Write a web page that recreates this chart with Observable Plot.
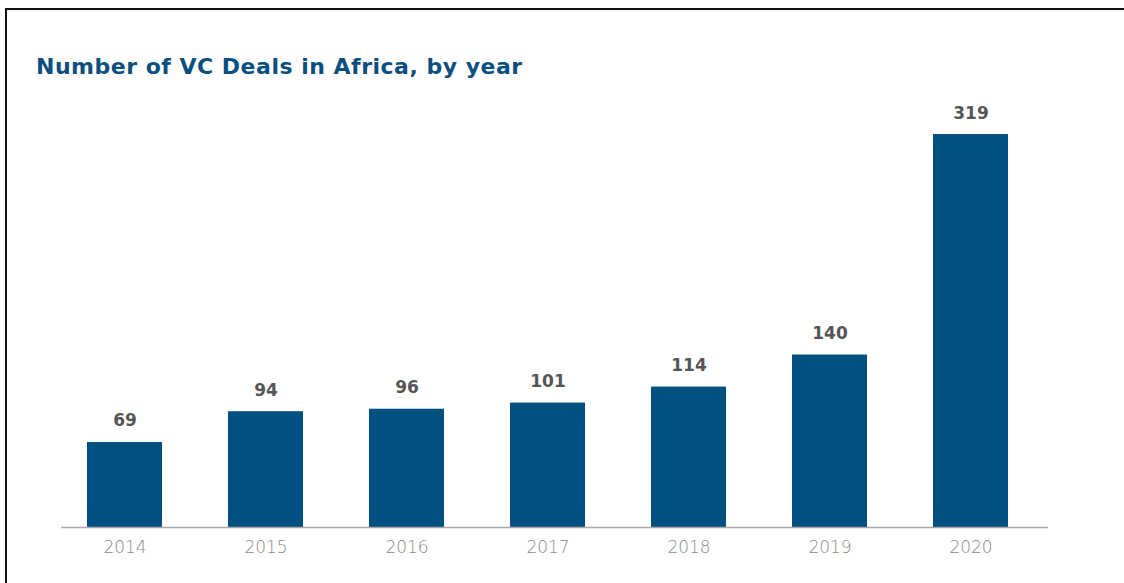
<!DOCTYPE html>
<html>
<head>
<meta charset="utf-8">
<script src="https://cdn.jsdelivr.net/npm/d3@7"></script>
<script src="https://cdn.jsdelivr.net/npm/@observablehq/plot@0.6"></script>
<style>
  html, body { margin: 0; padding: 0; background: #fff; }
  #wrap { position: relative; width: 1124px; height: 583px; overflow: hidden; background: #fff; }
  #borderTop { position: absolute; left: 5px; top: 8px; width: 1119px; height: 2px; background: #111; }
  #borderLeft { position: absolute; left: 5px; top: 8px; width: 2px; height: 575px; background: #111; }
  #title { position: absolute; left: 36px; top: 56px; line-height: 22px; font-family: "DejaVu Sans", sans-serif; font-weight: bold; font-size: 22px; letter-spacing: 0.5px; color: #0b4f80; white-space: nowrap; }
  #chart { position: absolute; left: 0; top: 0; }
</style>
</head>
<body>
<div id="wrap">
  <div id="chart"></div>
  <div id="borderTop"></div>
  <div id="borderLeft"></div>
  <div id="title">Number of VC Deals in Africa, by year</div>
</div>
<script>
const years = ["2014", "2015", "2016", "2017", "2018", "2019", "2020"];
const deals = [69, 94, 96, 101, 114, 140, 319];

const data = years.map((y, i) => ({year: y, deals: deals[i]}));

const chart = Plot.plot({
  width: 1124,
  height: 583,
  marginLeft: 61,
  marginRight: 76,
  marginTop: 0,
  marginBottom: 56,
  style: {fontFamily: "'DejaVu Sans', sans-serif", background: "transparent"},
  x: {domain: years, range: [85, 1010], paddingInner: 0.47, paddingOuter: 0, label: null},
  y: {domain: [0, 319], range: [527, 134], axis: null},
  marks: [
    Plot.barY(data, {x: "year", y: "deals", fill: "#005082"}),
    Plot.ruleY([0], {stroke: "#a8a8a8", strokeWidth: 1.5}),
    Plot.text(data, {x: "year", y: "deals", text: d => String(d.deals), dy: -16, lineAnchor: "bottom", fill: "#555", fontWeight: "bold", fontSize: 17}),
    Plot.axisX({tickSize: 0, tickPadding: 13, fontSize: 17, color: "#8a8a8a", fontWeight: 200, label: null})
  ]
});
document.getElementById("chart").appendChild(chart);
</script>
</body>
</html>
